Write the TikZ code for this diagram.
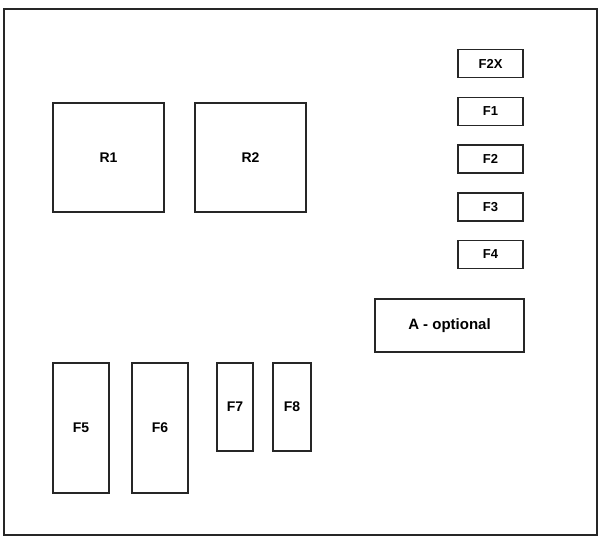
\documentclass[tikz,border=0pt]{standalone}
\usepackage{fontspec}
\setmainfont{Liberation Sans}

\tikzset{
  box/.style={draw=black!85, line width=1.5pt, rectangle, inner sep=0pt, outer sep=0pt, font=\bfseries\fontsize{14}{16}\selectfont},
  smallfuse/.style={box, minimum width=65pt, minimum height=28pt, font=\bfseries\fontsize{13}{15}\selectfont},
}

\begin{document}
\begin{tikzpicture}[x=1pt, y=-1pt]

  \useasboundingbox (0,0) rectangle (600,537);
  \draw [black!85, line width=1.7pt] (4,9) rectangle (597,535);

  % relays
  \coordinate (R1C) at (108.5,157.5);
  \coordinate (R2C) at (250.5,157.5);

  \node [box, minimum width=111pt, minimum height=109pt] (r1) at (R1C) {R1};
  \node [box, minimum width=111pt, minimum height=109pt] (r2) at (R2C) {R2};

  % small fuses on the right
  \node [smallfuse] (f2x) at (490.5,63.5) {F2X};
  \node [smallfuse] (f1) at (490.5,111.5) {F1};
  \node [smallfuse] (f2) at (490.5,159) {F2};
  \node [smallfuse] (f3) at (490.5,207) {F3};
  \node [smallfuse] (f4) at (490.5,254.5) {F4};

  \node [box, minimum width=149pt, minimum height=53pt, font=\bfseries\fontsize{15}{17}\selectfont] (a) at (449.5,325.5) {A - optional};

  % big fuses at the bottom
  \node [box, minimum width=56pt, minimum height=130pt] (f5) at (81,428) {F5};
  \node [box, minimum width=56pt, minimum height=130pt] (f6) at (160,428) {F6};
  \node [box, minimum width=36pt, minimum height=88pt] (f7) at (235,407) {F7};
  \node [box, minimum width=38pt, minimum height=88pt] (f8) at (292,407) {F8};

\end{tikzpicture}
\end{document}
